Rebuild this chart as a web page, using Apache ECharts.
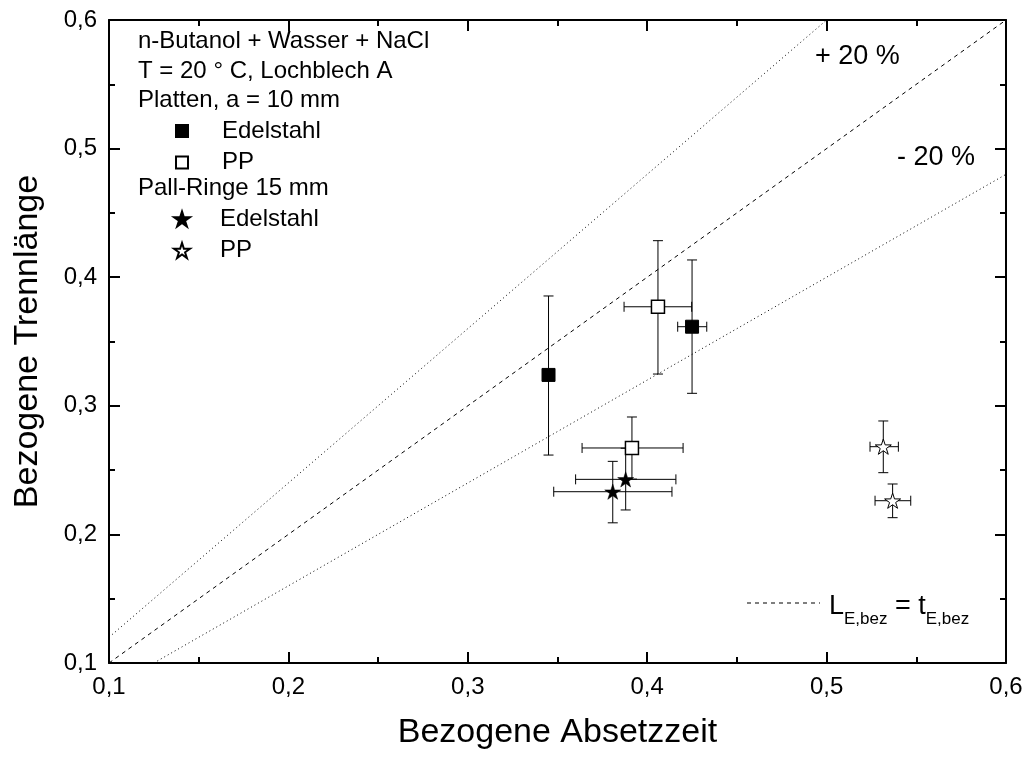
<!DOCTYPE html>
<html>
<head>
<meta charset="utf-8">
<script src="https://cdn.jsdelivr.net/npm/echarts@6/dist/echarts.min.js"></script>
<style>
  html, body { margin: 0; padding: 0; background: #fff; }
  #chart { width: 1028px; height: 758px; }
</style>
</head>
<body>
<div id="chart"></div>
<script>
// Axis setup
const axisMin = 0.1;
const axisMax = 0.6;
const axisStep = 0.1;

// Measured points: [x, y]
const plattenEdelstahl = [[0.345, 0.324], [0.425, 0.3615]];
const plattenPP = [[0.406, 0.377], [0.3915, 0.2672]];
const pallEdelstahl = [[0.388, 0.2428], [0.3808, 0.2332]];
const pallPP = [[0.5316, 0.2682], [0.5368, 0.2262]];

// Error ranges per point: [xLow, xHigh, yLow, yHigh]
const plattenEdelstahlErr = [[0.345, 0.345, 0.2617, 0.3854], [0.417, 0.4332, 0.3097, 0.4134]];
const plattenPPErr = [[0.3871, 0.4248, 0.3247, 0.4284], [0.3637, 0.42, 0.243, 0.2913]];
const pallEdelstahlErr = [[0.3601, 0.416, 0.219, 0.267], [0.3479, 0.4138, 0.209, 0.2568]];
const pallPPErr = [[0.5242, 0.54, 0.248, 0.2882], [0.527, 0.5469, 0.213, 0.2392]];

// Reference lines: parity and +/-20 % bands
const parityLine = [[0.1, 0.1], [0.6, 0.6]];
const plusLine = [[0.1, 0.12], [0.5, 0.6]];
const minusLine = [[0.125, 0.1], [0.6, 0.48]];

const FONT = '"Liberation Sans", Arial, Helvetica, sans-serif';
const STAR = 'path://M100,0 L122.45,69.1 L195.1,69.1 L136.33,111.8 L158.78,180.9 L100,138.2 L41.22,180.9 L63.67,111.8 L4.9,69.1 L77.55,69.1 Z';

const fmt = v => v.toFixed(1).replace('.', ',');

function errRows(points, errs) {
  return points.map((p, i) => [p[0], p[1]].concat(errs[i]));
}
const errorData = []
  .concat(errRows(plattenEdelstahl, plattenEdelstahlErr))
  .concat(errRows(plattenPP, plattenPPErr))
  .concat(errRows(pallEdelstahl, pallEdelstahlErr))
  .concat(errRows(pallPP, pallPPErr));

function renderError(params, api) {
  const x = api.value(0), y = api.value(1);
  const xl = api.value(2), xh = api.value(3), yl = api.value(4), yh = api.value(5);
  const cap = 5;
  const style = { stroke: '#000', lineWidth: 1 };
  const children = [];
  if (yh > yl) {
    const a = api.coord([x, yh]), b = api.coord([x, yl]);
    children.push({ type: 'line', shape: { x1: a[0], y1: a[1], x2: b[0], y2: b[1] }, style });
    children.push({ type: 'line', shape: { x1: a[0] - cap, y1: a[1], x2: a[0] + cap, y2: a[1] }, style });
    children.push({ type: 'line', shape: { x1: b[0] - cap, y1: b[1], x2: b[0] + cap, y2: b[1] }, style });
  }
  if (xh > xl) {
    const a = api.coord([xl, y]), b = api.coord([xh, y]);
    children.push({ type: 'line', shape: { x1: a[0], y1: a[1], x2: b[0], y2: b[1] }, style });
    children.push({ type: 'line', shape: { x1: a[0], y1: a[1] - cap, x2: a[0], y2: a[1] + cap }, style });
    children.push({ type: 'line', shape: { x1: b[0], y1: b[1] - cap, x2: b[0], y2: b[1] + cap }, style });
  }
  return { type: 'group', children };
}

function valueAxis(extra) {
  return Object.assign({
    type: 'value',
    min: axisMin,
    max: axisMax,
    interval: axisStep,
    axisLine: { show: true, onZero: false, lineStyle: { color: '#000', width: 2 } },
    axisTick: { show: true, inside: true, length: 11, lineStyle: { color: '#000', width: 2 } },
    minorTick: { show: true, splitNumber: 2, length: 6, lineStyle: { color: '#000', width: 2 } },
    splitLine: { show: false },
    axisLabel: { show: true, formatter: fmt, fontFamily: FONT, fontSize: 24, color: '#000' }
  }, extra);
}

const chart = echarts.init(document.getElementById('chart'), null, { renderer: 'canvas' });

const legendText = { fontFamily: FONT, fontSize: 24, color: '#000', lineHeight: 22, padding: [0, 0, 0, 29] };
const headStyle = { fontFamily: FONT, fontSize: 24, fill: '#000', verticalAlign: 'middle' };

chart.setOption({
  backgroundColor: '#fff',
  animation: false,
  grid: { left: 109, right: 22, top: 20, bottom: 95, containLabel: false },
  xAxis: [
    valueAxis({
      position: 'bottom',
      name: 'Bezogene Absetzzeit',
      nameLocation: 'middle',
      nameGap: 53,
      nameTextStyle: { fontFamily: FONT, fontSize: 34, color: '#000' },
      axisLabel: { show: true, formatter: fmt, fontFamily: FONT, fontSize: 24, color: '#000', margin: 12 }
    }),
    valueAxis({ position: 'top', axisLabel: { show: false } })
  ],
  yAxis: [
    valueAxis({
      position: 'left',
      name: 'Bezogene Trennlänge',
      nameLocation: 'middle',
      nameGap: 64,
      nameTextStyle: { fontFamily: FONT, fontSize: 34, color: '#000' },
      axisLabel: { show: true, formatter: fmt, fontFamily: FONT, fontSize: 24, color: '#000', margin: 12 }
    }),
    valueAxis({ position: 'right', axisLabel: { show: false } })
  ],
  legend: [
    {
      data: [{ name: 'Platten Edelstahl', icon: 'rect' }, { name: 'Platten PP', icon: 'rect' }],
      orient: 'vertical', left: 175, top: 119, padding: 0,
      itemWidth: 12, itemHeight: 12, itemGap: 7.5,
      selectedMode: false,
      formatter: n => n.replace(/^\S+ /, ''),
      textStyle: legendText
    },
    {
      data: [{ name: 'Pall-Ringe Edelstahl', icon: STAR }, { name: 'Pall-Ringe PP', icon: STAR }],
      orient: 'vertical', left: 173, top: 207, padding: 0,
      itemWidth: 16, itemHeight: 16, itemGap: 7.5,
      selectedMode: false,
      formatter: n => n.replace(/^\S+ /, ''),
      textStyle: Object.assign({}, legendText, { padding: [0, 0, 0, 25] })
    }
  ],
  graphic: [
    { type: 'text', x: 138, y: 41, style: Object.assign({ text: 'n-Butanol + Wasser + NaCl' }, headStyle) },
    { type: 'text', x: 138, y: 71, style: Object.assign({ text: 'T = 20 ° C, Lochblech A' }, headStyle) },
    { type: 'text', x: 138, y: 100, style: Object.assign({ text: 'Platten, a = 10 mm' }, headStyle) },
    { type: 'text', x: 138, y: 188, style: Object.assign({ text: 'Pall-Ringe 15 mm' }, headStyle) },
    { type: 'text', x: 815, y: 57, style: { text: '+ 20 %', fontFamily: FONT, fontSize: 27, fill: '#000', verticalAlign: 'middle' } },
    { type: 'text', x: 897, y: 158, style: { text: '- 20 %', fontFamily: FONT, fontSize: 27, fill: '#000', verticalAlign: 'middle' } },
    // key for the dashed parity line
    { type: 'line', shape: { x1: 747, y1: 603, x2: 820, y2: 603 }, style: { stroke: '#000', lineWidth: 1, lineDash: [4, 4] } },
    {
      type: 'text', x: 829, y: 590,
      style: {
        text: '{m|L}{s|E,bez}{m| = t}{s|E,bez}',
        fontFamily: FONT, fill: '#000',
        rich: {
          m: { fontFamily: FONT, fontSize: 27, fill: '#000', verticalAlign: 'bottom', lineHeight: 30 },
          s: { fontFamily: FONT, fontSize: 17, fill: '#000', verticalAlign: 'bottom', lineHeight: 30, padding: [0, 0, -8, 0] }
        }
      }
    }
  ],
  series: [
    {
      name: 'parity', type: 'line', data: parityLine, symbol: 'none', silent: true,
      lineStyle: { color: '#000', width: 1, type: [4, 4] }, z: 1
    },
    {
      name: '+20', type: 'line', data: plusLine, symbol: 'none', silent: true,
      lineStyle: { color: '#000', width: 1, type: [1, 3] }, z: 1
    },
    {
      name: '-20', type: 'line', data: minusLine, symbol: 'none', silent: true,
      lineStyle: { color: '#000', width: 1, type: [1, 3] }, z: 1
    },
    {
      name: 'errors', type: 'custom', data: errorData, renderItem: renderError,
      encode: { x: [0, 2, 3], y: [1, 4, 5] }, silent: true, z: 2
    },
    {
      name: 'Platten Edelstahl', type: 'scatter', data: plattenEdelstahl,
      symbol: 'rect', symbolSize: 13,
      itemStyle: { color: '#000', borderColor: '#000', borderWidth: 1, opacity: 1 }, z: 3
    },
    {
      name: 'Platten PP', type: 'scatter', data: plattenPP,
      symbol: 'rect', symbolSize: 13,
      itemStyle: { color: '#fff', borderColor: '#000', borderWidth: 1.5, opacity: 1 }, z: 3
    },
    {
      name: 'Pall-Ringe Edelstahl', type: 'scatter', data: pallEdelstahl,
      symbol: STAR, symbolSize: 16, symbolKeepAspect: true,
      itemStyle: { color: '#000', borderColor: '#000', borderWidth: 0.5, opacity: 1 }, z: 3
    },
    {
      name: 'Pall-Ringe PP', type: 'scatter', data: pallPP,
      symbol: STAR, symbolSize: 16, symbolKeepAspect: true,
      itemStyle: { color: '#fff', borderColor: '#000', borderWidth: 1, opacity: 1 }, z: 3
    }
  ]
});
</script>
</body>
</html>
